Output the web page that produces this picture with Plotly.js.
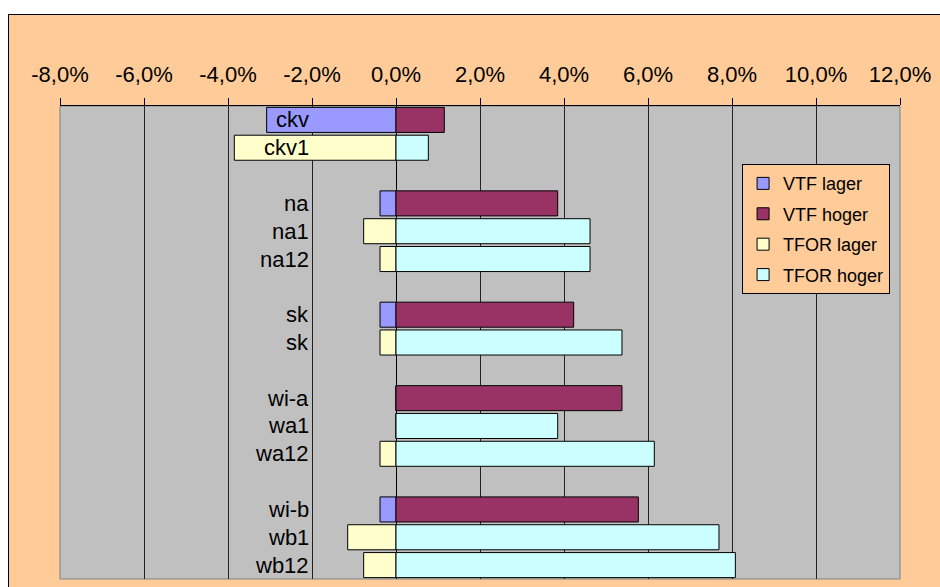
<!DOCTYPE html>
<html>
<head>
<meta charset="utf-8">
<script src="https://cdn.plot.ly/plotly-3.0.1.min.js"></script>
<style>
  html, body { margin: 0; padding: 0; background: #ffffff; }
  #frame {
    position: absolute; left: 8px; top: 14px;
    border-left: 1px solid #000; border-top: 1px solid #000;
  }
  #chart { width: 931px; height: 572px; }
</style>
</head>
<body>
<div id="frame"><div id="chart"></div></div>
<script>
// rijen van boven naar beneden, lege rijen zijn tussenruimte
const rows = ['ckv', 'ckv1', '', 'na', 'na1', 'na12', '', 'sk', 'sk', '', 'wi-a', 'wa1', 'wa12', '', 'wi-b', 'wb1', 'wb12'];

// waarden (fractie), null = geen balk
const vtfLager   = [-0.0308, null, null, -0.0038, null, null, null, -0.0038, null, null, 0, null, null, null, -0.0038, null, null];
const vtfHoger   = [0.0115, null, null, 0.0385, null, null, null, 0.0423, null, null, 0.0538, null, null, null, 0.0577, null, null];
const tforLager  = [null, -0.0385, null, null, -0.0077, -0.0038, null, null, -0.0038, null, null, 0, -0.0038, null, null, -0.0115, -0.0077];
const tforHoger  = [null, 0.0077, null, null, 0.0462, 0.0462, null, null, 0.0538, null, null, 0.0385, 0.0615, null, null, 0.0769, 0.0808];

const seriesNames  = ['VTF lager', 'VTF hoger', 'TFOR lager', 'TFOR hoger'];
const seriesColors = ['#9999FF', '#993366', '#FFFFCC', '#CCFFFF'];

const tickVals  = [-0.08, -0.06, -0.04, -0.02, 0, 0.02, 0.04, 0.06, 0.08, 0.10, 0.12];
const tickTexts = ['-8,0%', '-6,0%', '-4,0%', '-2,0%', '0,0%', '2,0%', '4,0%', '6,0%', '8,0%', '10,0%', '12,0%'];

const rowIdx = rows.map((_, i) => i);
const font = 'Liberation Sans, Arial, sans-serif';

const traces = [vtfLager, vtfHoger, tforLager, tforHoger].map((vals, k) => ({
    type: 'bar',
    orientation: 'h',
    x: vals,
    y: rowIdx,
    width: 0.9,
    name: seriesNames[k],
    legendgroup: 'g' + k,
    marker: { color: seriesColors[k], line: { color: '#000000', width: 1 } },
    hoverinfo: 'skip'
}));

// rijlabels links van de -2% lijn
const annotations = rows.map((label, i) => ({
    x: -0.0203, y: i, xref: 'x', yref: 'y',
    text: label, showarrow: false, xanchor: 'right', yanchor: 'middle',
    font: { family: font, size: 22, color: '#000000' }
})).filter(a => a.text !== '');

const layout = {
    width: 931,
    height: 572,
    margin: { l: 51, r: 40, t: 91, b: 8 },
    paper_bgcolor: '#FFCC99',
    plot_bgcolor: '#C0C0C0',
    barmode: 'relative',
    bargap: 0.1,
    showlegend: true,
    font: { family: font, size: 22, color: '#000000' },
    xaxis: {
        side: 'top',
        range: [-0.08, 0.12],
        tickvals: tickVals,
        ticktext: tickTexts,
        ticks: 'outside',
        ticklen: 7,
        tickcolor: '#000000',
        ticklabelstandoff: 7,
        tickfont: { family: font, size: 22, color: '#000000' },
        showline: true,
        linecolor: '#000000',
        linewidth: 1,
        showgrid: true,
        gridcolor: '#222222',
        gridwidth: 1,
        zeroline: true,
        zerolinecolor: '#000000',
        zerolinewidth: 1
    },
    yaxis: {
        range: [16.5, -0.5],
        showticklabels: false,
        showgrid: false,
        zeroline: false,
        ticks: ''
    },
    legend: {
        x: 0.812, y: 0.877, xanchor: 'left', yanchor: 'top',
        bgcolor: '#FFCC99',
        bordercolor: '#000000',
        borderwidth: 1,
        traceorder: 'grouped',
        tracegroupgap: 4,
        font: { family: font, size: 18, color: '#000000' }
    },
    annotations: annotations,
    shapes: [{
        type: 'rect', xref: 'paper', yref: 'paper', x0: 0, x1: 1, y0: 0, y1: 1,
        line: { color: '#808080', width: 1 }, fillcolor: 'rgba(0,0,0,0)', layer: 'below'
    }]
};

Plotly.newPlot('chart', traces, layout, { staticPlot: true, displayModeBar: false });
</script>
</body>
</html>
